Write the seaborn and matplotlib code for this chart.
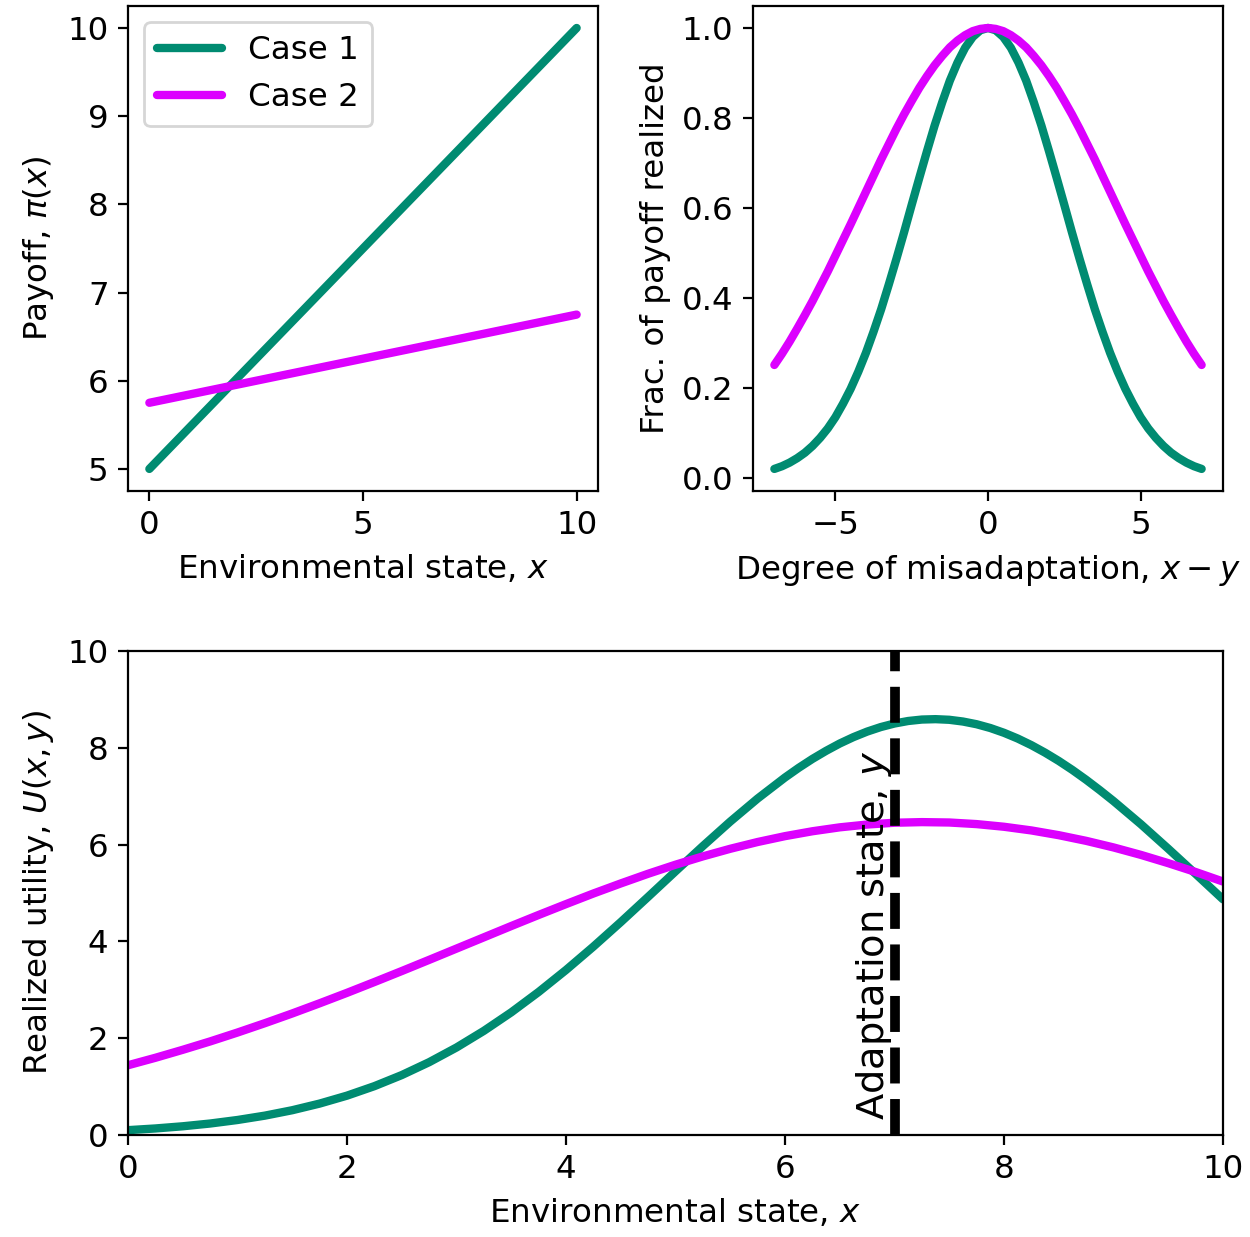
import numpy as np
import matplotlib
matplotlib.use("Agg")
import matplotlib.pyplot as plt
import seaborn as sns

sns.set_style("ticks", {"axes.edgecolor": "black", "xtick.color": "black",
                        "ytick.color": "black", "text.color": "black",
                        "axes.labelcolor": "black"})
plt.rcParams["font.family"] = ["DejaVu Sans"]
plt.rcParams["font.size"] = 11.7

teal = "#008b71"
magenta = "#dc00ff"

# top left: payoff lines
env_ends = [0, 10]
payoff_case1 = [5.0, 10.0]
payoff_case2 = [5.75, 6.75]

# top right: fraction of payoff realized vs x - y
misadapt = np.linspace(-7, 7, 57)
frac_case1 = [0.020, 0.026, 0.034, 0.044, 0.056, 0.071, 0.089, 0.110, 0.135, 0.165,
              0.198, 0.236, 0.278, 0.325, 0.375, 0.430, 0.487, 0.546, 0.607, 0.667,
              0.726, 0.783, 0.835, 0.883, 0.923, 0.956, 0.980, 0.995, 1.000, 0.995,
              0.980, 0.956, 0.923, 0.883, 0.835, 0.783, 0.726, 0.667, 0.607, 0.546,
              0.487, 0.430, 0.375, 0.325, 0.278, 0.236, 0.198, 0.165, 0.135, 0.110,
              0.089, 0.071, 0.056, 0.044, 0.034, 0.026, 0.020]
frac_case2 = [0.251, 0.276, 0.303, 0.332, 0.362, 0.393, 0.426, 0.459, 0.494, 0.529,
              0.564, 0.600, 0.636, 0.672, 0.708, 0.742, 0.776, 0.808, 0.838, 0.867,
              0.893, 0.917, 0.938, 0.957, 0.972, 0.984, 0.993, 0.998, 1.000, 0.998,
              0.993, 0.984, 0.972, 0.957, 0.938, 0.917, 0.893, 0.867, 0.838, 0.808,
              0.776, 0.742, 0.708, 0.672, 0.636, 0.600, 0.564, 0.529, 0.494, 0.459,
              0.426, 0.393, 0.362, 0.332, 0.303, 0.276, 0.251]

# bottom: realized utility vs environmental state, adaptation at y = 7
env_state = np.linspace(0, 10, 41)
# case 1 read more densely around its peak
env_state_c1 = np.concatenate([np.linspace(0, 5.75, 24), np.linspace(6, 9, 25),
                               np.linspace(9.25, 10, 4)])
utility_case1 = [0.099, 0.134, 0.179, 0.236, 0.309, 0.399, 0.511, 0.648, 0.812, 1.008,
                 1.237, 1.503, 1.807, 2.151, 2.533, 2.954, 3.408, 3.891, 4.397, 4.919,
                 5.446, 5.968, 6.474, 6.950,
                 7.385, 7.584, 7.768, 7.935, 8.087, 8.219, 8.333, 8.427, 8.500, 8.552,
                 8.582, 8.590, 8.577, 8.541, 8.485, 8.407, 8.308, 8.190, 8.053, 7.898,
                 7.727, 7.540, 7.338, 7.123, 6.898,
                 6.420, 5.913, 5.393, 4.868]
utility_case2 = [1.440, 1.594, 1.759, 1.932, 2.116, 2.309, 2.510, 2.720, 2.936, 3.159,
                 3.386, 3.617, 3.850, 4.083, 4.316, 4.545, 4.769, 4.988, 5.196, 5.396,
                 5.583, 5.755, 5.912, 6.052, 6.173, 6.274, 6.355, 6.413, 6.450, 6.463,
                 6.455, 6.422, 6.367, 6.291, 6.193, 6.076, 5.940, 5.786, 5.615, 5.432,
                 5.235]
adaptation_y = 7

fig = plt.figure(figsize=(6.25, 6.185), dpi=200)
ax1 = fig.add_axes([0.1024, 0.6031, 0.376, 0.3921])
ax2 = fig.add_axes([0.6024, 0.6031, 0.376, 0.3921])
ax3 = fig.add_axes([0.1024, 0.0825, 0.876, 0.3913])

sns.lineplot(x=env_ends, y=payoff_case1, ax=ax1, color=teal, lw=3, label="Case 1")
sns.lineplot(x=env_ends, y=payoff_case2, ax=ax1, color=magenta, lw=3, label="Case 2")
ax1.set_xticks([0, 5, 10])
ax1.set_yticks([5, 6, 7, 8, 9, 10])
ax1.set_xlabel("Environmental state, $x$")
ax1.set_ylabel("Payoff, $\\pi(x)$")
ax1.legend(loc="upper left", frameon=True)

sns.lineplot(x=misadapt, y=frac_case1, ax=ax2, color=teal, lw=3)
sns.lineplot(x=misadapt, y=frac_case2, ax=ax2, color=magenta, lw=3)
ax2.set_xticks([-5, 0, 5])
ax2.set_yticks([0.0, 0.2, 0.4, 0.6, 0.8, 1.0])
ax2.set_xlabel("Degree of misadaptation, $x - y$")
ax2.set_ylabel("Frac. of payoff realized")

sns.lineplot(x=env_state_c1, y=utility_case1, ax=ax3, color=teal, lw=3)
sns.lineplot(x=env_state, y=utility_case2, ax=ax3, color=magenta, lw=3)
ax3.axvline(adaptation_y, color="k", ls="--", lw=3.5)
ax3.text(adaptation_y, 0.3, "Adaptation state, $y$", rotation=90,
         ha="right", va="bottom", fontsize=13.8)
ax3.set_xlim(0, 10)
ax3.set_ylim(0, 10)
ax3.set_xticks([0, 2, 4, 6, 8, 10])
ax3.set_yticks([0, 2, 4, 6, 8, 10])
ax3.set_xlabel("Environmental state, $x$")
ax3.set_ylabel("Realized utility, $U(x, y)$")

for ax in (ax1, ax2, ax3):
    for s in ax.spines.values():
        s.set_visible(True)

fig.savefig("out.png", dpi=200)
